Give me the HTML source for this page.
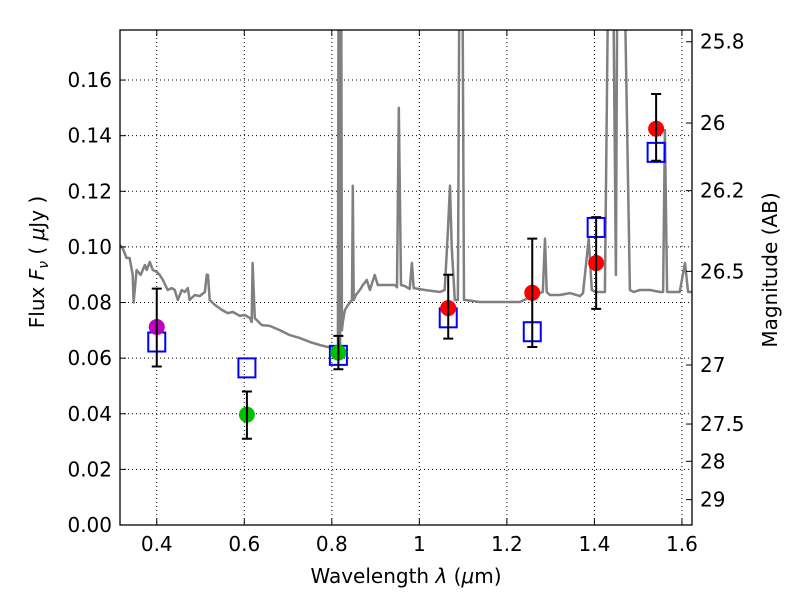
<!DOCTYPE html>
<html><head><meta charset="utf-8"><style>
body{margin:0;background:#fff;}
svg text{font-family:"DejaVu Sans","Liberation Sans",sans-serif;fill:#000;}
</style></head><body>
<svg id="chart" width="800" height="600" xmlns="http://www.w3.org/2000/svg">
<defs><clipPath id="pc"><rect x="120" y="30" width="572" height="495"/></clipPath></defs>
<g id="grid"></g>
<g id="spec" clip-path="url(#pc)"></g>
<g id="marks"></g>
<rect x="120" y="30" width="572" height="495" fill="none" stroke="#000" stroke-width="1.3"/>
<g id="axes"></g>
<text x="406" y="583" font-size="20" text-anchor="middle">Wavelength  <tspan font-style="italic">λ</tspan> (<tspan font-style="italic">μ</tspan>m)</text>
<text transform="translate(44,262) rotate(-90)" font-size="20" text-anchor="middle">Flux  <tspan font-style="italic">F<tspan font-size="14" dy="4">ν</tspan></tspan><tspan dy="-4">  ( </tspan><tspan font-style="italic">μ</tspan>Jy )</text>
<text transform="translate(777,270) rotate(-90)" font-size="20" text-anchor="middle">Magnitude (AB)</text>
</svg>
<script>
const xTicks=[0.4,0.6,0.8,1.0,1.2,1.4,1.6];
const xTickLabels=["0.4","0.6","0.8","1","1.2","1.4","1.6"];
const yTicks=[0,0.02,0.04,0.06,0.08,0.10,0.12,0.14,0.16];
const yTickLabels=["0.00","0.02","0.04","0.06","0.08","0.10","0.12","0.14","0.16"];
const magTicks=[25.8,26,26.2,26.5,27,27.5,28,29];
const magTickLabels=["25.8","26","26.2","26.5","27","27.5","28","29"];
const specWave=[0.315,0.322,0.331,0.338,0.345,0.347,0.354,0.363,0.373,0.377,0.384,0.391,0.400,0.407,0.414,0.425,0.434,0.441,0.448,0.457,0.464,0.471,0.475,0.487,0.498,0.510,0.514,0.517,0.521,0.533,0.549,0.562,0.574,0.590,0.601,0.613,0.617,0.619,0.624,0.640,0.658,0.681,0.704,0.727,0.750,0.773,0.791,0.807,0.814,0.816,0.819,0.821,0.823,0.825,0.830,0.837,0.846,0.848,0.850,0.855,0.864,0.871,0.880,0.887,0.898,0.905,0.921,0.944,0.949,0.953,0.958,0.967,0.978,0.983,0.987,1.013,1.047,1.058,1.065,1.070,1.074,1.081,1.088,1.093,1.097,1.102,1.106,1.138,1.184,1.230,1.253,1.282,1.287,1.291,1.298,1.321,1.344,1.367,1.374,1.381,1.387,1.394,1.403,1.424,1.435,1.440,1.449,1.454,1.458,1.463,1.481,1.490,1.504,1.527,1.550,1.557,1.561,1.566,1.573,1.595,1.607,1.614,1.623];
const specFlux=[0.1007,0.0996,0.096,0.096,0.0899,0.080,0.0917,0.0899,0.0935,0.0917,0.0946,0.0917,0.091,0.0899,0.0881,0.0845,0.0852,0.0845,0.0809,0.0845,0.0838,0.0852,0.0809,0.0827,0.0823,0.0838,0.0900,0.0899,0.0809,0.0791,0.0773,0.0762,0.0766,0.0752,0.0755,0.0744,0.073,0.0942,0.0744,0.0719,0.0716,0.0701,0.0683,0.0672,0.0658,0.0647,0.064,0.0636,0.064,0.25,0.06,0.25,0.07,0.073,0.0773,0.0791,0.0809,0.122,0.0809,0.0827,0.0845,0.0863,0.0881,0.0845,0.0899,0.0863,0.0863,0.0863,0.0855,0.150,0.0863,0.0859,0.0849,0.0942,0.0852,0.0845,0.0838,0.0845,0.105,0.122,0.10,0.0809,0.0809,0.25,0.25,0.0809,0.0809,0.0802,0.0802,0.0802,0.082,0.0838,0.103,0.0838,0.0827,0.0827,0.0834,0.0823,0.0834,0.094,0.103,0.0845,0.0838,0.0838,0.25,0.25,0.0899,0.25,0.25,0.25,0.0845,0.0838,0.0845,0.0845,0.0838,0.0838,0.142,0.0838,0.0838,0.0838,0.0942,0.0838,0.0838];
const photWave=[0.400,0.606,0.815,1.066,1.258,1.404,1.541];
const photFlux=[0.0712,0.0397,0.0620,0.0780,0.0835,0.0942,0.1425];
const photLo=[0.057,0.031,0.056,0.067,0.064,0.0777,0.131];
const photHi=[0.085,0.048,0.068,0.090,0.103,0.1107,0.155];
const photColor=["#bf00bf","#00bf00","#00bf00","#ff0000","#ff0000","#ff0000","#ff0000"];
const modelFlux=[0.0658,0.0565,0.061,0.0745,0.0695,0.107,0.134];

const NS="http://www.w3.org/2000/svg";
const X0=120,X1=692,Y0=525,Y1=30,XMIN=0.316,XMAX=1.623,YMIN=0,YMAX=0.178;
function sx(v){return X0+(v-XMIN)/(XMAX-XMIN)*(X1-X0);}
function sy(v){return Y0-(v-YMIN)/(YMAX-YMIN)*(Y0-Y1);}
function mk(tag,attrs,parent){const e=document.createElementNS(NS,tag);for(const k in attrs)e.setAttribute(k,attrs[k]);parent.appendChild(e);return e;}
const grid=document.getElementById('grid'),axes=document.getElementById('axes'),spec=document.getElementById('spec'),marks=document.getElementById('marks');
xTicks.forEach((t,i)=>{const x=sx(t);
 let g=mk('line',{x1:x,x2:x,y1:Y1,y2:Y0,stroke:'#000','stroke-width':1,'stroke-dasharray':'1,3'},grid);
 
 
 mk('line',{x1:x,x2:x,y1:Y0,y2:Y0-6,stroke:'#000'},axes);
 mk('line',{x1:x,x2:x,y1:Y1,y2:Y1+6,stroke:'#000'},axes);
 const tx=mk('text',{x:x,y:551,'font-size':20,'text-anchor':'middle'},axes);tx.textContent=xTickLabels[i];
 
 
});
yTicks.forEach((t,i)=>{const y=sy(t);
 let g=mk('line',{x1:X0,x2:X1,y1:y,y2:y,stroke:'#000','stroke-width':1,'stroke-dasharray':'1,3'},grid);
 
 
 mk('line',{x1:X0,x2:X0+6,y1:y,y2:y,stroke:'#000'},axes);
 const tx=mk('text',{x:112,y:y+7,'font-size':20,'text-anchor':'end'},axes);tx.textContent=yTickLabels[i];
 
 
});
magTicks.forEach((m,i)=>{const y=sy(Math.pow(10,(23.9-m)/2.5));
 mk('line',{x1:X1,x2:X1-6,y1:y,y2:y,stroke:'#000'},axes);
 const tx=mk('text',{x:700,y:y+7,'font-size':20},axes);tx.textContent=magTickLabels[i];
 
 
});
const p=mk('path',{d:specWave.map((w,i)=>(i?'L':'M')+sx(w).toFixed(1)+','+sy(specFlux[i]).toFixed(1)).join(''),fill:'none',stroke:'#808080','stroke-width':2.5,'stroke-linejoin':'round'},spec);


photWave.forEach((w,i)=>{const x=sx(w);
 const sq=mk('rect',{x:x-8.5,y:sy(modelFlux[i])-9.5,width:17,height:19,fill:'none',stroke:'#0000ff','stroke-width':2},marks);
 
 
 const c=mk('circle',{cx:x,cy:sy(photFlux[i]),r:8,fill:photColor[i]},marks);
 
 
 const e=mk('path',{d:`M${x},${sy(photLo[i])}L${x},${sy(photHi[i])}M${x-5},${sy(photLo[i])}L${x+5},${sy(photLo[i])}M${x-5},${sy(photHi[i])}L${x+5},${sy(photHi[i])}`,stroke:'#000','stroke-width':2,fill:'none'},marks);
 
 
});
</script>
</body></html>
